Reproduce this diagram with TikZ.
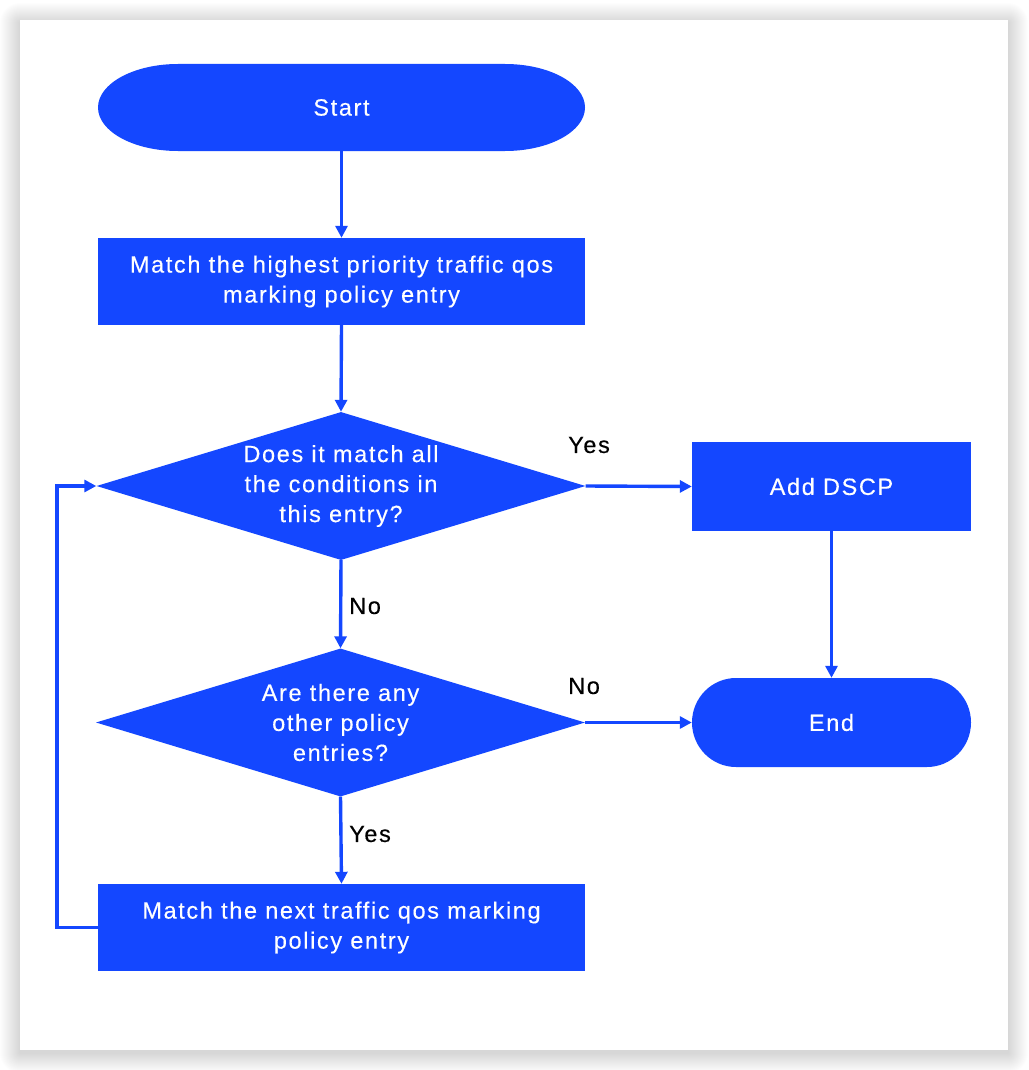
\documentclass[tikz,border=0pt]{standalone}
\usepackage{fontspec}
\setmainfont{Liberation Sans}[LetterSpace=7,FakeBold=0.3]
\usetikzlibrary{arrows.meta,shapes.geometric}
\definecolor{fb}{HTML}{1447FF}
\begin{document}
\begin{tikzpicture}[x=1pt,y=-1pt,
  every node/.style={font=\fontsize{23.5}{30}\selectfont},
  box/.style={fill=fb,text=white,minimum width=487,minimum height=87,inner sep=0,align=center},
  pilltext/.style={text=white,minimum width=487,minimum height=87,inner sep=0,align=center},
  dia/.style={shape=diamond,fill=fb,text=white,aspect=3.2,inner sep=0,minimum width=489,minimum height=148,align=center},
  conn/.style={draw=fb,line width=3.4pt,-{Triangle[width=12pt,length=12pt]}},
  lbl/.style={text=black,inner sep=0}
]
\useasboundingbox (0,0) rectangle (1028,1070);
\fill[white] (0,0) rectangle (1028,1070);
% shadow
\foreach \i in {1,...,20} {
  \fill[black,opacity=0.008,rounded corners=\i] (20-\i,20-\i+3) rectangle (1008+\i,1050+\i+3);
}
\fill[white] (20,20) rectangle (1008,1050);

% stadium fills
\fill[fb] (178,64) -- (505,64) arc[start angle=-90,end angle=90,x radius=80,y radius=43.5]
  -- (178,151) arc[start angle=90,end angle=270,x radius=80,y radius=43.5] -- cycle;
\fill[fb] (736,678) -- (927,678) arc[start angle=-90,end angle=90,x radius=44,y radius=44.5]
  -- (736,767) arc[start angle=90,end angle=270,x radius=44,y radius=44.5] -- cycle;

\node[pilltext] (start) at (341.5,107.5) {Start};
\node[box] (m1) at (341.5,281.5) {Match the highest priority traffic qos\\marking policy entry};
\node[dia] (d1) at (341,486) {Does it match all\\the conditions in\\this entry?};
\node[box,minimum width=279,minimum height=89] (dscp) at (831.5,486.5) {Add DSCP};
\node[dia] (d2) at (340.5,722.5) {Are there any\\other policy\\entries?};
\node[pilltext,minimum width=279,minimum height=89] (end) at (831.5,722.5) {End};
\node[box] (m2) at (341.5,927.5) {Match the next traffic qos marking\\policy entry};

\draw[conn] (start.south) -- (m1.north);
\draw[conn] (m1.south) -- (d1.north);
\draw[conn] (d1.east) -- (dscp.west);
\draw[conn] (d1.south) -- (d2.north);
\draw[conn] (dscp.south) -- (end.north);
\draw[conn] (d2.east) -- (end.west);
\draw[conn] (d2.south) -- (m2.north);
\draw[conn] (m2.west) -- (57,927.5) -- (57,486) -- (d1.west);

\node[lbl,anchor=west] (lyes1) at (568,445) {Yes};
\node[lbl,anchor=west] (lno1) at (349,606) {No};
\node[lbl,anchor=west] (lno2) at (568,686) {No};
\node[lbl,anchor=west] (lyes2) at (349,834) {Yes};
\end{tikzpicture}
\end{document}
